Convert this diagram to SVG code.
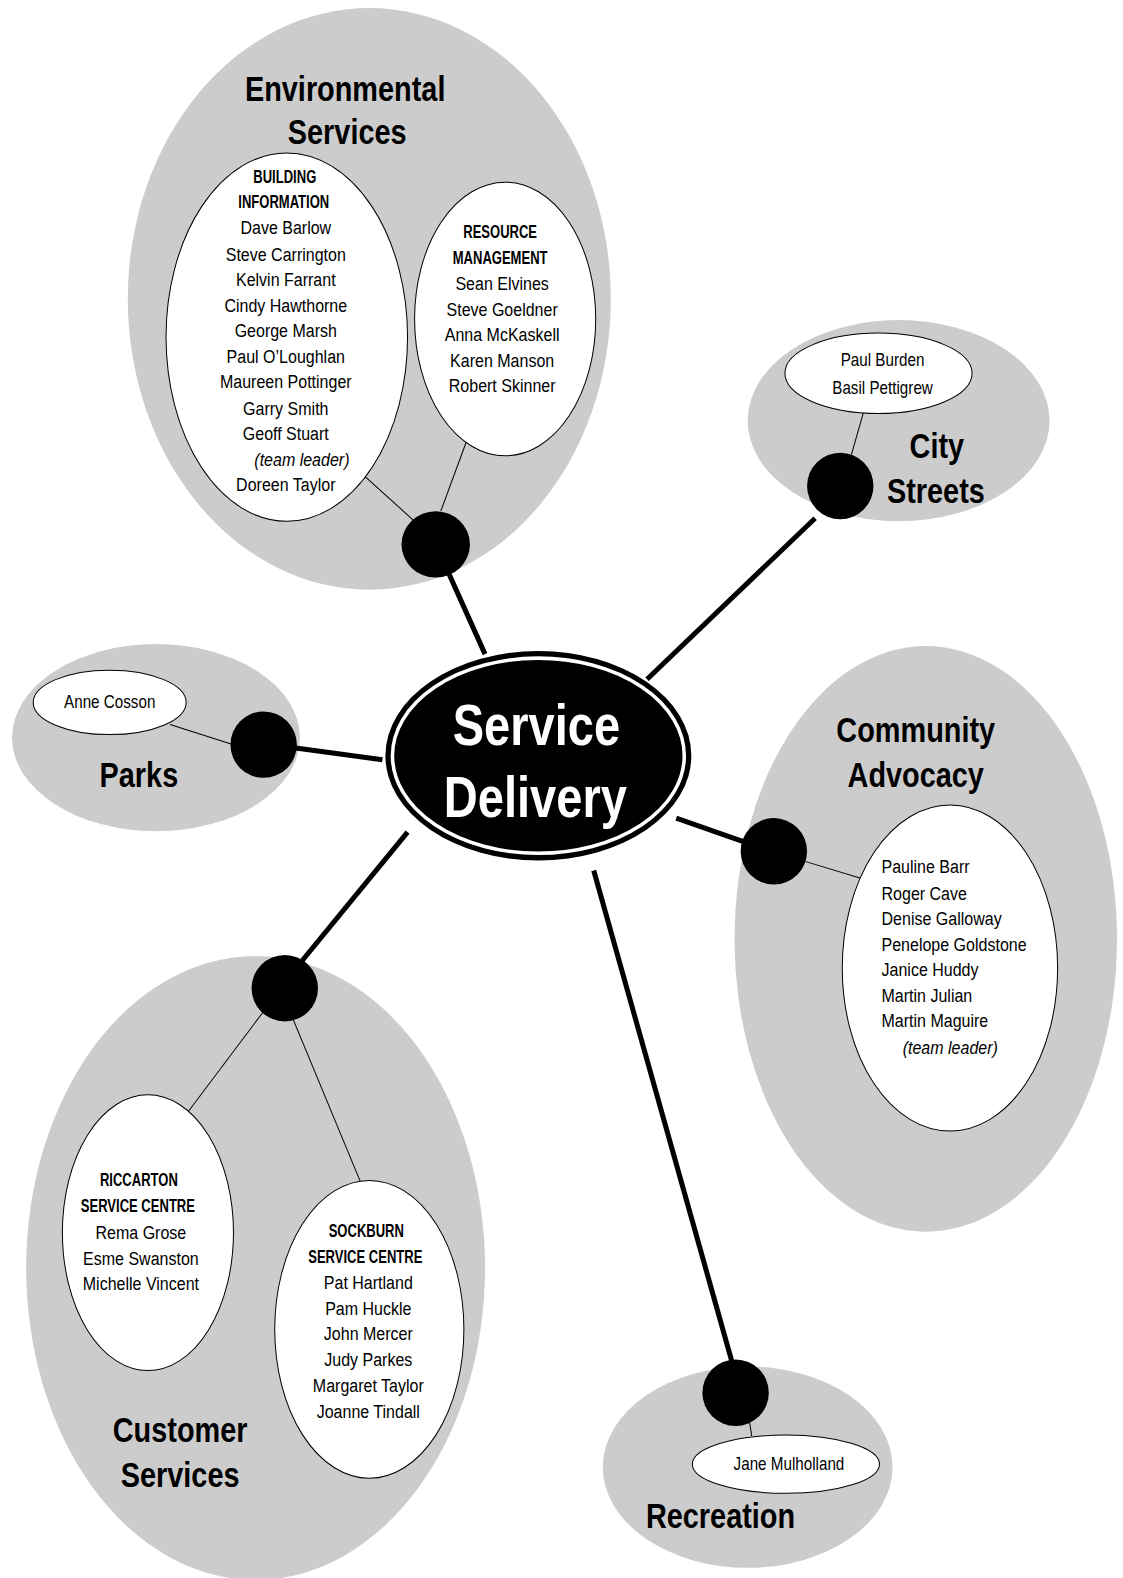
<svg xmlns="http://www.w3.org/2000/svg" width="1123" height="1578" viewBox="0 0 1123 1578">
<style>
.bg{fill:#cccccc;stroke:none}
.sub{fill:#ffffff;stroke:#000000;stroke-width:1}
.dot{fill:#000000}
.thin{stroke:#000000;stroke-width:1;fill:none}
.conn{stroke:#000000;stroke-width:5;fill:none}
text{font-family:"Liberation Sans",Arial,sans-serif;fill:#000000}
.title{font-size:35px;font-weight:bold;text-anchor:middle}
.head{font-size:17.5px;font-weight:bold;text-anchor:middle}
.name{font-size:18.5px;text-anchor:middle}
.left{font-size:18.5px}
.it{font-style:italic}
.big{font-size:57px;font-weight:bold;text-anchor:middle;fill:#ffffff}
</style>
<rect x="0" y="0" width="1123" height="1578" fill="#ffffff"/>
<g transform="scale(1.0063)">
<g id="environmental-services">
<ellipse class="bg" cx="367" cy="297" rx="240" ry="289"/>
<text class="title" transform="translate(343 100) scale(.82 1)">Environmental</text>
<text class="title" transform="translate(345 143) scale(.82 1)">Services</text>
<line class="thin" x1="362" y1="473" x2="412" y2="518"/>
<line class="thin" x1="466" y1="432" x2="438" y2="508"/>
<ellipse class="sub" cx="285" cy="335" rx="120" ry="183"/>
<ellipse class="sub" cx="502" cy="317" rx="90" ry="136"/>
<text class="head" transform="translate(283 182) scale(.74 1)">BUILDING</text>
<text class="head" transform="translate(282 207) scale(.74 1)">INFORMATION</text>
<text class="name" transform="translate(284 233) scale(.86 1)">Dave Barlow</text>
<text class="name" transform="translate(284 259) scale(.86 1)">Steve Carrington</text>
<text class="name" transform="translate(284 284) scale(.86 1)">Kelvin Farrant</text>
<text class="name" transform="translate(284 310) scale(.86 1)">Cindy Hawthorne</text>
<text class="name" transform="translate(284 335) scale(.86 1)">George Marsh</text>
<text class="name" transform="translate(284 361) scale(.86 1)">Paul O’Loughlan</text>
<text class="name" transform="translate(284 386) scale(.86 1)">Maureen Pottinger</text>
<text class="name" transform="translate(284 412) scale(.86 1)">Garry Smith</text>
<text class="name" transform="translate(284 437) scale(.86 1)">Geoff Stuart</text>
<text class="name it" transform="translate(300 463) scale(.86 1)">(team leader)</text>
<text class="name" transform="translate(284 488) scale(.86 1)">Doreen Taylor</text>
<text class="head" transform="translate(497 237) scale(.74 1)">RESOURCE</text>
<text class="head" transform="translate(497 262) scale(.74 1)">MANAGEMENT</text>
<text class="name" transform="translate(499 288) scale(.86 1)">Sean Elvines</text>
<text class="name" transform="translate(499 314) scale(.86 1)">Steve Goeldner</text>
<text class="name" transform="translate(499 339) scale(.86 1)">Anna McKaskell</text>
<text class="name" transform="translate(499 365) scale(.86 1)">Karen Manson</text>
<text class="name" transform="translate(499 390) scale(.86 1)">Robert Skinner</text>
<ellipse class="dot" cx="433" cy="541" rx="34" ry="33"/>
</g>
<g id="city-streets">
<ellipse class="bg" cx="893" cy="418" rx="150" ry="100"/>
<line class="thin" x1="858" y1="410" x2="846" y2="452"/>
<ellipse class="sub" cx="873" cy="371" rx="93" ry="40"/>
<text class="name" transform="translate(877 364) scale(.84 1)" style="font-size:18px">Paul Burden</text>
<text class="name" transform="translate(877 392) scale(.84 1)" style="font-size:18px">Basil Pettigrew</text>
<text class="title" transform="translate(931 455) scale(.82 1)">City</text>
<text class="title" transform="translate(930 500) scale(.82 1)">Streets</text>
<ellipse class="dot" cx="835" cy="483" rx="33" ry="33"/>
</g>
<g id="parks">
<ellipse class="bg" cx="155" cy="733" rx="143" ry="93"/>
<line class="thin" x1="169" y1="720" x2="232" y2="740"/>
<ellipse class="sub" cx="109" cy="698" rx="76" ry="32"/>
<text class="name" transform="translate(109 704) scale(.84 1)" style="font-size:18px">Anne Cosson</text>
<text class="title" transform="translate(138 782) scale(.82 1)">Parks</text>
<ellipse class="dot" cx="262" cy="740" rx="33" ry="33"/>
</g>
<g id="community-advocacy">
<ellipse class="bg" cx="920" cy="933" rx="190" ry="291"/>
<text class="title" transform="translate(910 737) scale(.82 1)">Community</text>
<text class="title" transform="translate(910 782) scale(.82 1)">Advocacy</text>
<line class="thin" x1="800" y1="856" x2="866" y2="876"/>
<ellipse class="sub" cx="944" cy="962" rx="107" ry="162"/>
<text class="left" transform="translate(876 868) scale(.86 1)">Pauline Barr</text>
<text class="left" transform="translate(876 894) scale(.86 1)">Roger Cave</text>
<text class="left" transform="translate(876 919) scale(.86 1)">Denise Galloway</text>
<text class="left" transform="translate(876 945) scale(.86 1)">Penelope Goldstone</text>
<text class="left" transform="translate(876 970) scale(.86 1)">Janice Huddy</text>
<text class="left" transform="translate(876 996) scale(.86 1)">Martin Julian</text>
<text class="left" transform="translate(876 1021) scale(.86 1)">Martin Maguire</text>
<text class="left it" transform="translate(897 1047) scale(.86 1)">(team leader)</text>
<ellipse class="dot" cx="769" cy="846" rx="33" ry="33"/>
</g>
<g id="customer-services">
<ellipse class="bg" cx="254" cy="1260" rx="228" ry="310"/>
<line class="thin" x1="265" y1="1001" x2="186" y2="1106"/>
<line class="thin" x1="288" y1="1005" x2="358" y2="1174"/>
<ellipse class="sub" cx="147" cy="1225" rx="85" ry="137"/>
<ellipse class="sub" cx="367" cy="1321" rx="94" ry="148"/>
<text class="head" transform="translate(138 1179) scale(.74 1)">RICCARTON</text>
<text class="head" transform="translate(137 1204) scale(.74 1)">SERVICE CENTRE</text>
<text class="name" transform="translate(140 1231) scale(.86 1)">Rema Grose</text>
<text class="name" transform="translate(140 1257) scale(.86 1)">Esme Swanston</text>
<text class="name" transform="translate(140 1282) scale(.86 1)">Michelle Vincent</text>
<text class="head" transform="translate(364 1229) scale(.74 1)">SOCKBURN</text>
<text class="head" transform="translate(363 1255) scale(.74 1)">SERVICE CENTRE</text>
<text class="name" transform="translate(366 1281) scale(.86 1)">Pat Hartland</text>
<text class="name" transform="translate(366 1307) scale(.86 1)">Pam Huckle</text>
<text class="name" transform="translate(366 1332) scale(.86 1)">John Mercer</text>
<text class="name" transform="translate(366 1357) scale(.86 1)">Judy Parkes</text>
<text class="name" transform="translate(366 1383) scale(.86 1)">Margaret Taylor</text>
<text class="name" transform="translate(366 1409) scale(.86 1)">Joanne Tindall</text>
<text class="title" transform="translate(179 1433) scale(.82 1)">Customer</text>
<text class="title" transform="translate(179 1478) scale(.82 1)">Services</text>
<ellipse class="dot" cx="283" cy="982" rx="33" ry="33"/>
</g>
<g id="recreation">
<ellipse class="bg" cx="743" cy="1458" rx="144" ry="100"/>
<line class="thin" x1="745" y1="1414" x2="747" y2="1427"/>
<ellipse class="sub" cx="781" cy="1455" rx="93" ry="29"/>
<text class="name" transform="translate(784 1461) scale(.84 1)" style="font-size:18px">Jane Mulholland</text>
<text class="title" transform="translate(716 1518) scale(.82 1)">Recreation</text>
<ellipse class="dot" cx="731" cy="1384" rx="33" ry="33"/>
</g>
<g id="connectors">
<line class="conn" x1="446" y1="570" x2="482" y2="650"/>
<line class="conn" x1="810" y1="515" x2="643" y2="675"/>
<line class="conn" x1="292" y1="743" x2="380" y2="755"/>
<line class="conn" x1="738" y1="836" x2="672" y2="813"/>
<line class="conn" x1="300" y1="955" x2="405" y2="827"/>
<line class="conn" x1="727" y1="1352" x2="590" y2="865"/>
</g>
<g id="service-delivery">
<ellipse cx="535" cy="751" rx="152" ry="104" fill="#000000"/>
<ellipse cx="535" cy="751" rx="145" ry="97" fill="none" stroke="#ffffff" stroke-width="3.5"/>
<text class="big" transform="translate(533 740) scale(.82 1)">Service</text>
<text class="big" transform="translate(532 812) scale(.82 1)">Delivery</text>
</g>
</g>
</svg>
